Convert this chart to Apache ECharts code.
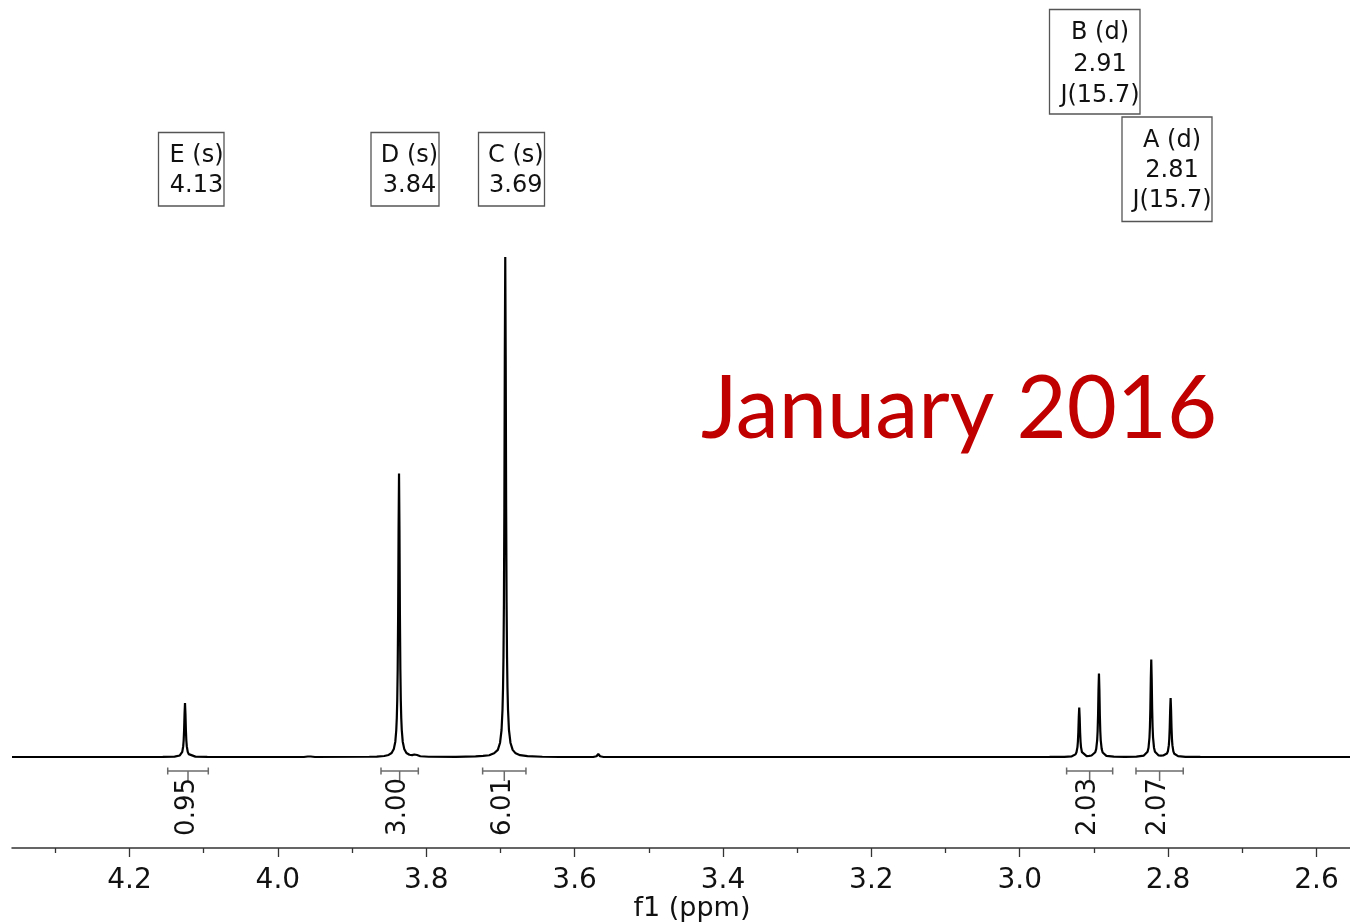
<!DOCTYPE html>
<html><head><meta charset="utf-8">
<script src="https://cdn.jsdelivr.net/npm/echarts@6/dist/echarts.min.js"></script>
<style>html,body{margin:0;padding:0;background:#fff}#c{width:1350px;height:923px}</style>
</head><body><div id="c"></div>
<script>
// ---- data (ppm, intensity; tallest peak = 100) ----
const spectrum = [
  [4.3584, 0], [4.2200, 0],
  [4.1552, 0.02], [4.1392, 0.08], [4.1322, 0.31], [4.1302, 0.58], [4.1289, 1.03], [4.1276, 2.16], [4.1270, 3.3], [4.1264, 5.4], [4.1258, 8.64],
  [4.1252, 10.8],
  [4.1246, 8.64], [4.1240, 5.4], [4.1234, 3.3], [4.1228, 2.16], [4.1215, 1.03], [4.1202, 0.58], [4.1182, 0.31], [4.1112, 0.08], [4.0952, 0.02],
  [4.0000, 0],
  [3.9650, 0], [3.9597, 0.1], [3.9577, 0.3], [3.9557, 0.1], [3.9500, 0],
  [3.8767, 0.05], [3.8667, 0.09], [3.8567, 0.2], [3.8507, 0.41], [3.8467, 0.8], [3.8437, 1.62], [3.8417, 3.06], [3.8404, 5.4],
  [3.8397, 7.8], [3.8391, 11.3], [3.8385, 17.5], [3.8379, 28.4], [3.8373, 45.4],
  [3.8367, 56.7],
  [3.8361, 45.4], [3.8355, 28.4], [3.8349, 17.5], [3.8343, 11.3], [3.8337, 7.8], [3.8330, 5.4], [3.8317, 3.06],
  [3.8297, 1.62], [3.8267, 0.8], [3.8227, 0.45],
  [3.8190, 0.38], [3.8160, 0.5], [3.8142, 0.75], [3.8124, 0.4], [3.8080, 0.15], [3.7967, 0.05],
  [3.7600, 0.03], [3.7335, 0.12], [3.7235, 0.21], [3.7150, 0.35], [3.7120, 0.55], [3.7104, 0.8], [3.7085, 0.75],
  [3.7065, 0.85], [3.7035, 1.42], [3.7005, 2.86],
  [3.6985, 5.4], [3.6972, 9.5], [3.6965, 13.8], [3.6959, 20], [3.6953, 30.8], [3.6947, 50], [3.6941, 80],
  [3.6935, 100],
  [3.6929, 80], [3.6923, 50], [3.6917, 30.8], [3.6911, 20], [3.6905, 13.8], [3.6898, 9.5], [3.6885, 5.4],
  [3.6865, 2.86], [3.6835, 1.42], [3.6795, 0.73], [3.6735, 0.36], [3.6635, 0.16], [3.6435, 0.05],
  [3.6200, 0],
  [3.5750, 0], [3.5705, 0.15], [3.5681, 0.6], [3.5657, 0.15], [3.5610, 0],
  [3.2000, 0], [3.0000, 0],
  [2.9598, 0.01], [2.9398, 0.04], [2.9298, 0.14], [2.9248, 0.53], [2.9235, 0.94], [2.9222, 1.98], [2.9216, 3.05], [2.9210, 4.95], [2.9204, 7.92],
  [2.9198, 9.9],
  [2.9192, 7.92], [2.9186, 4.95], [2.9180, 3.05], [2.9174, 1.98], [2.9161, 0.96], [2.9148, 0.56], [2.9098, 0.18], [2.9065, 0.21], [2.9032, 0.3],
  [2.8982, 0.95], [2.8969, 1.62], [2.8956, 3.38], [2.8950, 5.15], [2.8944, 8.37], [2.8938, 13.4],
  [2.8932, 16.7],
  [2.8926, 13.4], [2.8920, 8.35], [2.8914, 5.15], [2.8908, 3.34], [2.8895, 1.59], [2.8882, 0.9], [2.8832, 0.23], [2.8732, 0.06],
  [2.8580, 0.03], [2.8427, 0.08], [2.8327, 0.28], [2.8277, 1.06], [2.8264, 1.85], [2.8251, 3.9], [2.8245, 6.0], [2.8239, 9.75], [2.8233, 15.6],
  [2.8227, 19.5],
  [2.8221, 15.6], [2.8215, 9.75], [2.8209, 6.0], [2.8203, 3.9], [2.8190, 1.87], [2.8177, 1.07], [2.8127, 0.32], [2.8097, 0.27], [2.8066, 0.3],
  [2.8016, 0.68], [2.8003, 1.14], [2.7990, 2.37], [2.7984, 3.63], [2.7978, 5.9], [2.7972, 9.44],
  [2.7966, 11.8],
  [2.7960, 9.44], [2.7954, 5.9], [2.7948, 3.63], [2.7942, 2.36], [2.7929, 1.12], [2.7916, 0.64], [2.7866, 0.17], [2.7766, 0.04], [2.7566, 0.01],
  [2.5548, 0]
];
const majorTicks = [4.2, 4.0, 3.8, 3.6, 3.4, 3.2, 3.0, 2.8, 2.6];
const minorTicks = [4.3, 4.1, 3.9, 3.7, 3.5, 3.3, 3.1, 2.9, 2.7];
const integralFrom = [4.1485, 3.8610, 3.7240, 2.9368, 2.8433];
const integralTo   = [4.0938, 3.8107, 3.6656, 2.8747, 2.7796];
const integralValues = ['0.95', '3.00', '6.01', '2.03', '2.07'];
const peakLabels = ['E (s)', 'D (s)', 'C (s)', 'B (d)', 'A (d)'];
const peakShifts = ['4.13', '3.84', '3.69', '2.91', '2.81'];
const peakJ = ['', '', '', 'J(15.7)', 'J(15.7)'];
const axisTitle = 'f1 (ppm)';
const stampText = 'January 2016';

// ---- layout (pixels) ----
const X_MIN = 2.5548, X_MAX = 4.3584;
const boxLayout = [
  {x: 158.5, y: 132.5, w: 65.5, h: 73.5, tx: 196.5, ty: [156, 185.5]},
  {x: 371,   y: 132.5, w: 68,   h: 73.5, tx: 409.5, ty: [156, 185.5]},
  {x: 478.5, y: 132.5, w: 66,   h: 73.5, tx: 515.8, ty: [156, 185.5]},
  {x: 1049.5, y: 9.5,  w: 90.5, h: 104.5, tx: 1100, ty: [33, 64.5, 95.5]},
  {x: 1122,  y: 117,   w: 90,   h: 104.5, tx: 1172, ty: [140.5, 170.5, 201]}
];
const FONT = 'DejaVu Sans';

const graphics = [];
peakLabels.forEach((lab, i) => {
  const L = boxLayout[i];
  graphics.push({type: 'rect', shape: {x: L.x, y: L.y, width: L.w, height: L.h},
    style: {fill: 'none', stroke: '#555', lineWidth: 1.3}, silent: true});
  const lines = [lab, peakShifts[i], peakJ[i]].filter(s => s);
  lines.forEach((t, k) => {
    graphics.push({type: 'text', x: L.tx, y: L.ty[k],
      style: {text: t, font: '24px "' + FONT + '"', fill: '#111', align: 'center', verticalAlign: 'middle'}, silent: true});
  });
});
graphics.push({type: 'text', x: 692, y: 909,
  style: {text: axisTitle, font: '27px "' + FONT + '"', fill: '#111', align: 'center', verticalAlign: 'middle'}});
graphics.push({type: 'text', x: 701, y: 410,
  style: {text: stampText, font: '86.5px Lato', fill: '#C00000', align: 'left', verticalAlign: 'middle'}});

const chart = echarts.init(document.getElementById('c'), null, {renderer: 'canvas'});
chart.setOption({
  animation: false,
  backgroundColor: '#fff',
  grid: {left: 12, right: 0, top: 257, bottom: 75},
  xAxis: [{
    type: 'value', inverse: true, min: X_MIN, max: X_MAX, position: 'bottom',
    axisLine: {show: true, onZero: false, lineStyle: {color: '#333', width: 1.5}},
    axisTick: {show: true, inside: false, length: 9, customValues: majorTicks, lineStyle: {color: '#333', width: 1.3}},
    axisLabel: {show: true, customValues: majorTicks, margin: 19, color: '#111',
      fontFamily: FONT, fontSize: 28, formatter: v => (+v).toFixed(1)},
    splitLine: {show: false}
  }, {
    type: 'value', inverse: true, min: X_MIN, max: X_MAX, position: 'bottom',
    axisLine: {show: false, onZero: false},
    axisTick: {show: true, length: 5, customValues: minorTicks, lineStyle: {color: '#333', width: 1.3}},
    axisLabel: {show: false},
    splitLine: {show: false}
  }],
  yAxis: {type: 'value', min: -18.2, max: 100, show: false},
  series: [{
    type: 'line', data: spectrum, xAxisIndex: 0, symbol: 'none', clip: false, silent: true,
    lineStyle: {color: '#000', width: 2.2}
  }, {
    type: 'custom', xAxisIndex: 0, silent: true, clip: false,
    data: integralFrom.map((f, i) => [f, integralTo[i]]),
    encode: {x: [0, 1]},
    renderItem: function (params, api) {
      const a = api.coord([api.value(0), 0]);
      const b = api.coord([api.value(1), 0]);
      const y = a[1] + 14;
      const xc = (a[0] + b[0]) / 2;
      const st = {stroke: '#6b6b6b', lineWidth: 1.5};
      return {type: 'group', children: [
        {type: 'line', shape: {x1: a[0], y1: y, x2: b[0], y2: y}, style: st},
        {type: 'line', shape: {x1: a[0], y1: y - 3.5, x2: a[0], y2: y + 3.5}, style: st},
        {type: 'line', shape: {x1: b[0], y1: y - 3.5, x2: b[0], y2: y + 3.5}, style: st},
        {type: 'line', shape: {x1: xc, y1: y, x2: xc, y2: y + 10}, style: st},
        {type: 'text', x: xc - 1, y: y + 7, rotation: Math.PI / 2,
          style: {text: integralValues[params.dataIndex], font: '26px "' + FONT + '"', fill: '#111',
            align: 'right', verticalAlign: 'middle'}}
      ]};
    }
  }],
  graphic: graphics
});
</script>
</body></html>
